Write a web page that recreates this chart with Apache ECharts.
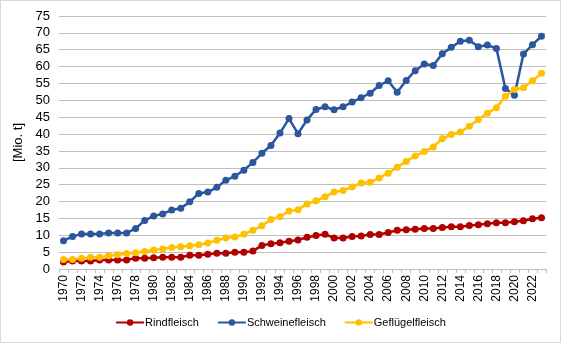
<!DOCTYPE html>
<html><head><meta charset="utf-8">
<script src="https://cdn.jsdelivr.net/npm/echarts@6/dist/echarts.min.js"></script>
<style>html,body{margin:0;padding:0;background:#fff;}
#c{position:absolute;left:0;top:0;width:559px;height:341px;border:1px solid #d9d9d9;}</style>
</head><body><div id="c"></div>
<script>
const years = [];
for (let y = 1970; y <= 2023; y++) years.push(String(y));
const rindfleisch = [2.1,2.4,2.4,2.4,2.7,2.7,2.7,2.7,3.2,3.2,3.3,3.5,3.5,3.5,4.1,4.1,4.4,4.7,4.7,5.0,5.0,5.3,7.0,7.5,7.8,8.2,8.6,9.4,9.9,10.3,9.2,9.2,9.6,9.8,10.2,10.2,10.8,11.5,11.6,11.8,12.0,12.0,12.3,12.5,12.5,12.9,13.1,13.4,13.7,13.7,14.0,14.3,14.9,15.2];
const schweinefleisch = [8.4,9.6,10.4,10.4,10.4,10.7,10.7,10.7,12.0,14.4,15.7,16.3,17.5,18.0,19.9,22.4,22.8,24.2,26.3,27.5,29.3,31.6,34.3,36.6,40.3,44.6,40.1,44.2,47.3,48.1,47.2,48.1,49.5,50.8,52.1,54.4,55.8,52.4,55.9,58.8,60.8,60.3,63.8,65.7,67.5,67.8,65.9,66.4,65.4,53.5,51.5,63.7,66.5,69.0];
const gefluegelfleisch = [2.8,2.8,3.2,3.5,3.5,3.9,4.2,4.6,4.8,5.2,5.6,5.9,6.4,6.6,6.9,7.2,7.7,8.5,9.2,9.5,10.3,11.5,12.8,14.7,15.5,17.2,17.6,19.3,20.2,21.4,22.8,23.3,24.3,25.5,25.7,27.0,28.4,30.2,31.9,33.5,34.8,36.2,38.6,39.9,40.6,42.3,44.3,46.2,47.8,51.2,53.2,53.7,55.8,58.0];
const seriesNames = ['Rindfleisch','Schweinefleisch','Geflügelfleisch'];
const colors = ['#B00000','#2B559C','#FFC000'];
const yTitle = '[Mio. t]';

const chart = echarts.init(document.getElementById('c'));
const font = 'Liberation Sans, Arial, sans-serif';
function mk(name, data, color){
  return {name, type:'line', data, symbol:'circle', symbolSize:7, showAllSymbol:true,
    lineStyle:{width:2.5,color}, itemStyle:{color}, emphasis:{disabled:true}};
}
chart.setOption({
  animation:false,
  grid:{left:58,right:14,top:15,bottom:73,containLabel:false},
  legend:{bottom:9,left:'center',itemWidth:28,itemHeight:8,itemGap:18,
    textStyle:{fontFamily:font,fontSize:11,color:'#000',padding:[0,0,0,-4]},
    data:seriesNames},
  xAxis:{type:'category',data:years,boundaryGap:true,
    axisLine:{lineStyle:{color:'#BFBFBF'}},
    axisTick:{show:true,interval:0,lineStyle:{color:'#BFBFBF'},length:4},
    axisLabel:{interval:1,rotate:90,fontFamily:font,fontSize:12,color:'#000',margin:6}},
  yAxis:{type:'value',min:0,max:75,interval:5,name:yTitle,nameLocation:'middle',nameGap:34,nameRotate:90,
    nameTextStyle:{fontFamily:font,fontSize:13,color:'#000'},
    axisLine:{show:false},axisTick:{show:false},
    axisLabel:{fontFamily:font,fontSize:13,color:'#000',margin:9},
    splitLine:{lineStyle:{color:'#BFBFBF'}}},
  series:[mk(seriesNames[0],rindfleisch,colors[0]),mk(seriesNames[1],schweinefleisch,colors[1]),mk(seriesNames[2],gefluegelfleisch,colors[2])]
});
</script></body></html>
